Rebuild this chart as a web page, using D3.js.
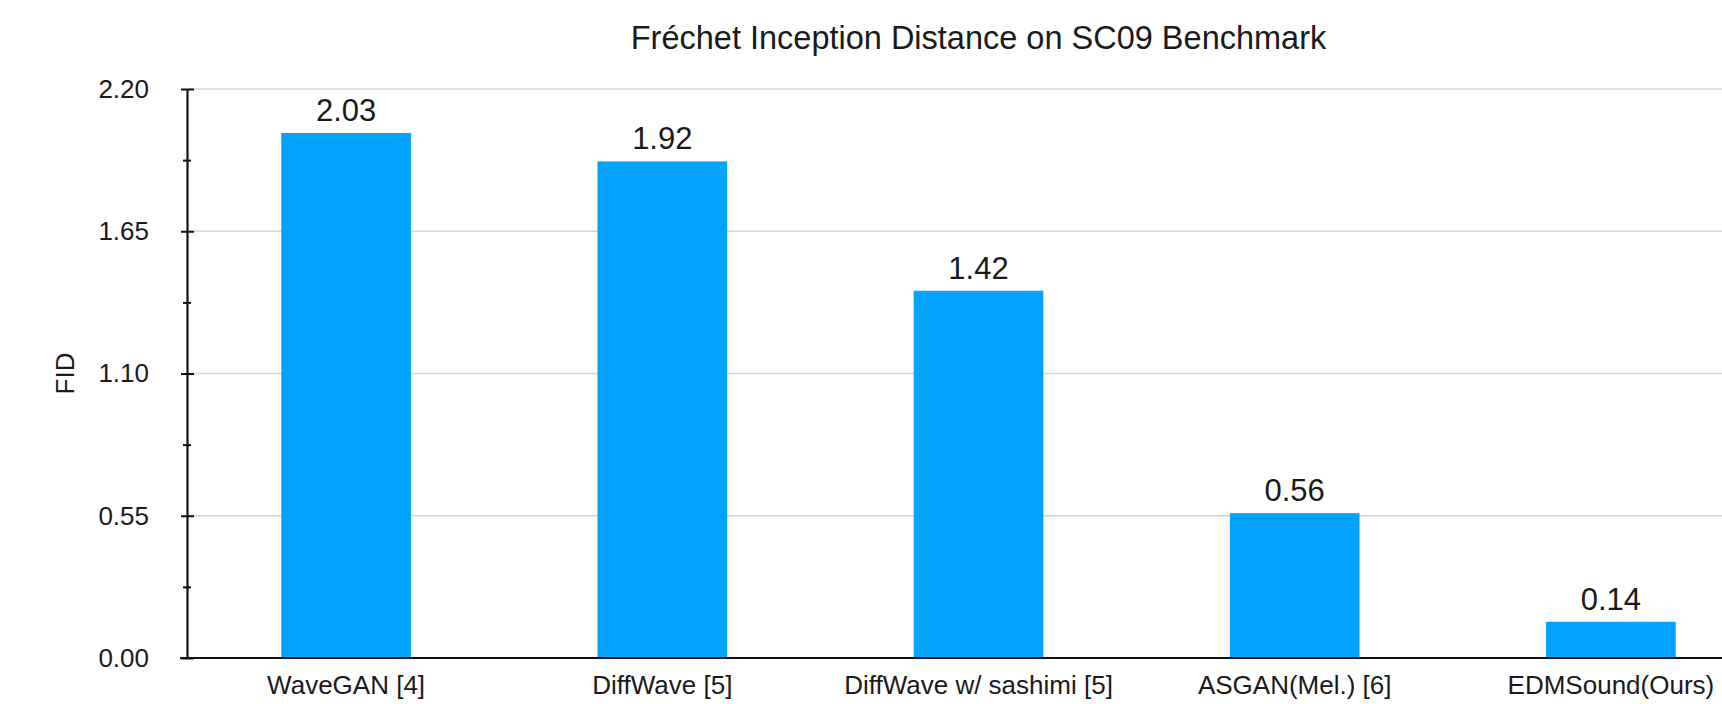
<!DOCTYPE html>
<html>
<head>
<meta charset="utf-8">
<script src="https://cdn.jsdelivr.net/npm/d3@7"></script>
<style>
  html, body { margin: 0; padding: 0; background: #ffffff; }
  svg { display: block; font-family: "Liberation Sans", Arial, Helvetica, sans-serif; }
</style>
</head>
<body>
<svg id="chart" width="1722" height="704"></svg>
<script>
// FID scores per model on the SC09 benchmark
const categories = ["WaveGAN [4]", "DiffWave [5]", "DiffWave w/ sashimi [5]", "ASGAN(Mel.) [6]", "EDMSound(Ours)"];
const fidValues = [2.03, 1.92, 1.42, 0.56, 0.14];
const majorTicks = [0.00, 0.55, 1.10, 1.65, 2.20];
const minorTicks = [0.275, 0.825, 1.375, 1.925];
const titleText = "Fréchet Inception Distance on SC09 Benchmark";
const yLabel = "FID";

const svg = d3.select("#chart");
const W = 1722, H = 704;
const plot = { left: 188, right: 1769, top: 89, bottom: 658 };

const x = d3.scaleBand()
  .domain(categories)
  .range([plot.left, plot.right])
  .paddingInner(0.59)
  .paddingOuter(0.295);

const y = d3.scaleLinear()
  .domain([0, 2.2])
  .range([plot.bottom, plot.top]);

// horizontal gridlines at the major ticks
svg.append("g")
  .selectAll("line")
  .data(majorTicks.filter(d => d > 0))
  .join("line")
  .attr("x1", plot.left)
  .attr("x2", W)
  .attr("y1", d => y(d))
  .attr("y2", d => y(d))
  .attr("stroke", "#d6d6d6")
  .attr("stroke-width", 1.6);

// bars
svg.append("g")
  .selectAll("rect")
  .data(fidValues)
  .join("rect")
  .attr("x", (d, i) => x(categories[i]))
  .attr("width", x.bandwidth())
  .attr("y", d => y(d))
  .attr("height", d => y(0) - y(d))
  .attr("fill", "#03a2ff");

// value labels above bars
svg.append("g")
  .selectAll("text")
  .data(fidValues)
  .join("text")
  .attr("x", (d, i) => x(categories[i]) + x.bandwidth() / 2)
  .attr("y", d => y(d) - 12)
  .attr("text-anchor", "middle")
  .attr("font-size", 31)
  .attr("fill", "#1a1a1a")
  .text(d => d.toFixed(2));

// y axis with major ticks crossing the line
const yAxis = svg.append("g")
  .attr("transform", `translate(${plot.left - 1},0)`)
  .call(d3.axisLeft(y).tickValues(majorTicks).tickFormat(d3.format(".2f")).tickSizeInner(6).tickSizeOuter(0).tickPadding(32));
yAxis.select(".domain").attr("stroke", "#111").attr("stroke-width", 2.2);
yAxis.selectAll(".tick line").attr("x1", 7).attr("stroke", "#111").attr("stroke-width", 2);
yAxis.selectAll(".tick text")
  .attr("font-size", 26)
  .attr("fill", "#1a1a1a")
  .attr("font-family", "\"Liberation Sans\", Arial, sans-serif");

// minor ticks
const yMinor = svg.append("g")
  .attr("transform", `translate(${plot.left - 1},0)`)
  .call(d3.axisLeft(y).tickValues(minorTicks).tickFormat("").tickSizeInner(4).tickSizeOuter(0));
yMinor.select(".domain").remove();
yMinor.selectAll(".tick line").attr("x1", 4).attr("stroke", "#111").attr("stroke-width", 2);

// x axis baseline and category labels
const xAxis = svg.append("g")
  .attr("transform", `translate(0,${plot.bottom})`)
  .call(d3.axisBottom(x).tickSize(0).tickPadding(0));
xAxis.select(".domain").remove();
xAxis.selectAll(".tick text")
  .attr("y", 36)
  .attr("dy", 0)
  .attr("font-size", 26)
  .attr("fill", "#1a1a1a")
  .attr("font-family", "\"Liberation Sans\", Arial, sans-serif");
svg.append("line")
  .attr("x1", plot.left - 8)
  .attr("x2", W)
  .attr("y1", plot.bottom)
  .attr("y2", plot.bottom)
  .attr("stroke", "#111")
  .attr("stroke-width", 2.2);

// title
svg.append("text")
  .attr("x", (plot.left + plot.right) / 2)
  .attr("y", 49)
  .attr("text-anchor", "middle")
  .attr("font-size", 32.5)
  .attr("fill", "#1a1a1a")
  .text(titleText);

// y axis label
svg.append("text")
  .attr("transform", `translate(74,${(plot.top + plot.bottom) / 2}) rotate(-90)`)
  .attr("text-anchor", "middle")
  .attr("font-size", 26)
  .attr("fill", "#1a1a1a")
  .text(yLabel);
</script>
</body>
</html>
